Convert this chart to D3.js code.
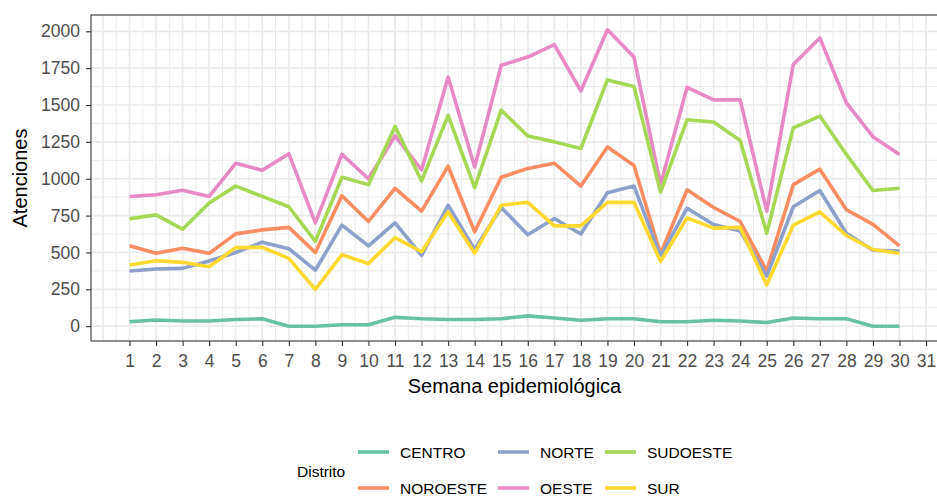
<!DOCTYPE html>
<html>
<head>
<meta charset="utf-8">
<script src="https://cdn.jsdelivr.net/npm/d3@7"></script>
<style>
    body { margin: 0; background: #ffffff; }
    svg { display: block; font-family: "Liberation Sans", Arial, sans-serif; }
</style>
</head>
<body>
<div id="chart"></div>
<script>
// weeks on the x axis
var weeks = d3.range(1, 31);
var weekTicks = d3.range(1, 32);
var yTicks = [0, 250, 500, 750, 1000, 1250, 1500, 1750, 2000];

// district names (legend order) and Set2 colours
var districts = ["CENTRO", "NOROESTE", "NORTE", "OESTE", "SUDOESTE", "SUR"];
var colors = ["#66C2A5", "#FC8D62", "#8DA0CB", "#E78AC3", "#A6D854", "#FFD92F"];

// attentions per week
var centro = [30, 42, 35, 35, 45, 50, 0, 0, 10, 10, 60, 50, 45, 45, 50, 70, 55, 40, 50, 50, 30, 30, 40, 35, 25, 55, 50, 50, 0, 0];
var noroeste = [546, 494, 528, 494, 626, 653, 670, 500, 885, 710, 935, 780, 1085, 640, 1010, 1070, 1105, 950, 1215, 1090, 490, 925, 805, 710, 375, 960, 1065, 790, 690, 545];
var norte = [374, 388, 392, 442, 500, 570, 525, 380, 685, 545, 700, 480, 820, 520, 805, 620, 730, 625, 905, 950, 475, 800, 690, 645, 340, 810, 920, 630, 515, 510];
var oeste = [880, 891, 922, 880, 1105, 1058, 1170, 700, 1165, 1000, 1290, 1060, 1690, 1080, 1770, 1825, 1910, 1595, 2010, 1825, 960, 1620, 1535, 1535, 780, 1775, 1955, 1515, 1285, 1165];
var sudoeste = [728, 755, 658, 835, 950, 880, 810, 575, 1010, 960, 1355, 985, 1430, 940, 1465, 1290, 1250, 1205, 1670, 1625, 910, 1400, 1385, 1260, 630, 1345, 1425, 1165, 920, 935];
var sur = [415, 444, 433, 403, 533, 535, 460, 250, 485, 425, 600, 505, 775, 495, 820, 840, 680, 680, 840, 840, 440, 735, 665, 670, 280, 685, 775, 615, 520, 495];

var seriesValues = [centro, noroeste, norte, oeste, sudoeste, sur];

var width = 937,
    height = 497,
    panel = { left: 91, right: 938, top: 15, bottom: 341 };

var svg = d3.select("#chart").append("svg")
    .attr("width", width)
    .attr("height", height);

// scales with ggplot style 5% expansion
var x = d3.scaleLinear().domain([-0.45, 31.45]).range([panel.left, panel.right]);
var y = d3.scaleLinear().domain([-100.5, 2110.5]).range([panel.bottom, panel.top]);

var plot = svg.append("g");

// panel background
plot.append("rect")
    .attr("x", panel.left).attr("y", panel.top)
    .attr("width", panel.right - panel.left).attr("height", panel.bottom - panel.top)
    .attr("fill", "#ffffff");

// minor grid
var grid = plot.append("g").attr("stroke", "#EBEBEB").attr("fill", "none");
grid.selectAll(".vminor")
    .data(d3.range(0, 32.5, 1).map(function (d) { return d - 0.5; }).filter(function (d) { return d > -0.45 && d < 31.45; }))
    .enter().append("line")
    .attr("x1", function (d) { return x(d); }).attr("x2", function (d) { return x(d); })
    .attr("y1", panel.top).attr("y2", panel.bottom)
    .attr("stroke-width", 1);
grid.selectAll(".hminor")
    .data(d3.range(125, 2000, 250))
    .enter().append("line")
    .attr("x1", panel.left).attr("x2", panel.right)
    .attr("y1", function (d) { return y(d); }).attr("y2", function (d) { return y(d); })
    .attr("stroke-width", 1);

// major grid (0 comes from the minor break extension)
grid.selectAll(".vmajor")
    .data(d3.range(0, 32))
    .enter().append("line")
    .attr("x1", function (d) { return x(d); }).attr("x2", function (d) { return x(d); })
    .attr("y1", panel.top).attr("y2", panel.bottom)
    .attr("stroke-width", 1.7);
grid.selectAll(".hmajor")
    .data(yTicks)
    .enter().append("line")
    .attr("x1", panel.left).attr("x2", panel.right)
    .attr("y1", function (d) { return y(d); }).attr("y2", function (d) { return y(d); })
    .attr("stroke-width", 1.7);

// lines
var line = d3.line()
    .x(function (d) { return x(d[0]); })
    .y(function (d) { return y(d[1]); });

plot.append("g").selectAll("path")
    .data(seriesValues)
    .enter().append("path")
    .attr("d", function (vals) { return line(weeks.map(function (w, i) { return [w, vals[i]]; })); })
    .attr("fill", "none")
    .attr("stroke", function (d, i) { return colors[i]; })
    .attr("stroke-width", 3.6)
    .attr("stroke-linejoin", "round");

// panel border
plot.append("rect")
    .attr("x", panel.left).attr("y", panel.top)
    .attr("width", panel.right - panel.left).attr("height", panel.bottom - panel.top)
    .attr("fill", "none")
    .attr("stroke", "#333333")
    .attr("stroke-width", 1.1);

// axes
var xAxis = svg.append("g")
    .attr("transform", "translate(0," + panel.bottom + ")")
    .call(d3.axisBottom(x).tickValues(weekTicks).tickSize(5).tickPadding(9).tickSizeOuter(0));
var yAxis = svg.append("g")
    .attr("transform", "translate(" + panel.left + ",0)")
    .call(d3.axisLeft(y).tickValues(yTicks).tickFormat(d3.format("d")).tickSize(5).tickPadding(6).tickSizeOuter(0));

[xAxis, yAxis].forEach(function (ax) {
    ax.select(".domain").remove();
    ax.selectAll(".tick line").attr("stroke", "#333333").attr("stroke-width", 1.1);
    ax.selectAll(".tick text")
        .attr("fill", "#4D4D4D")
        .style("font-size", "17.5px")
        .style("font-family", "\"Liberation Sans\", Arial, sans-serif");
});

// axis titles
svg.append("text")
    .attr("x", (panel.left + panel.right) / 2)
    .attr("y", 393)
    .attr("text-anchor", "middle")
    .style("font-size", "20px")
    .text("Semana epidemiológica");

svg.append("text")
    .attr("transform", "translate(27," + ((panel.top + panel.bottom) / 2) + ") rotate(-90)")
    .attr("text-anchor", "middle")
    .style("font-size", "20px")
    .text("Atenciones");

// legend, two rows filled by column
var legend = svg.append("g");
legend.append("text")
    .attr("x", 297).attr("y", 477)
    .style("font-size", "15.5px")
    .text("Distrito");

var rowY = [452, 488],
    keyLen = 31,
    colX = 358;

for (var c = 0; c < 3; c++) {
    var maxW = 0;
    for (var r = 0; r < 2; r++) {
        var k = c * 2 + r;
        legend.append("line")
            .attr("x1", colX).attr("x2", colX + keyLen)
            .attr("y1", rowY[r]).attr("y2", rowY[r])
            .attr("stroke", colors[k])
            .attr("stroke-width", 3.6);
        var t = legend.append("text")
            .attr("x", colX + keyLen + 11)
            .attr("y", rowY[r])
            .attr("dy", "0.36em")
            .style("font-size", "15.5px")
            .text(districts[k]);
        maxW = Math.max(maxW, t.node().getComputedTextLength());
    }
    colX += keyLen + 11 + maxW + 11;
}
</script>
</body>
</html>
